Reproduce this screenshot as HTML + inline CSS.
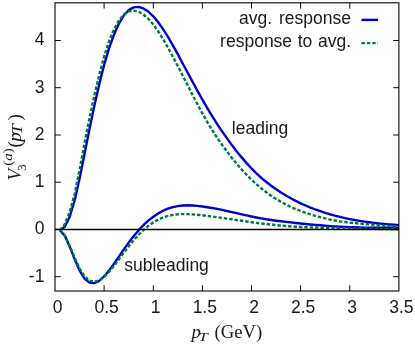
<!DOCTYPE html>
<html><head><meta charset="utf-8"><title>chart</title><style>html,body{margin:0;padding:0;background:#fff;overflow:hidden}svg{display:block;will-change:transform}</style></head><body>
<svg width="415" height="346" viewBox="0 0 415 346">
<rect width="415" height="346" fill="#fff"/>
<g fill="none" stroke-width="2.4" stroke-linejoin="round">
<path d="M59.9,230.2 L64.8,235.8 L69.7,246.6 L74.7,259.2 L79.6,270.4 L84.5,278.6 L89.4,282.6 L94.3,283.1 L99.2,280.8 L104.1,276.4 L109.0,270.6 L114.0,263.7 L118.9,256.6 L123.8,249.4 L128.7,242.6 L133.6,236.2 L138.5,230.4 L143.4,225.2 L148.3,220.6 L153.3,216.7 L158.2,213.4 L163.1,210.7 L168.0,208.6 L172.9,207.1 L177.8,206.1 L182.7,205.5 L187.7,205.3 L192.6,205.5 L197.5,205.9 L202.4,206.5 L207.3,207.2 L212.2,208.0 L217.1,208.9 L222.0,209.9 L227.0,211.0 L231.9,212.1 L236.8,213.2 L241.7,214.3 L246.6,215.4 L251.5,216.5 L256.4,217.5 L261.3,218.4 L266.3,219.3 L271.2,220.0 L276.1,220.7 L281.0,221.3 L285.9,221.9 L290.8,222.4 L295.7,223.0 L300.6,223.5 L305.6,224.0 L310.5,224.5 L315.4,224.9 L320.3,225.3 L325.2,225.7 L330.1,226.1 L335.0,226.4 L340.0,226.7 L344.9,226.9 L349.8,227.2 L354.7,227.3 L359.6,227.5 L364.5,227.6 L369.4,227.7 L374.3,227.8 L379.3,227.8 L384.2,227.8 L389.1,227.8 L394.0,227.8 L398.9,227.8" stroke="#0000cd"/>
<path d="M59.9,230.2 L64.8,235.5 L69.7,245.9 L74.7,257.9 L79.6,268.5 L84.5,276.3 L89.4,280.7 L94.3,281.8 L99.2,280.4 L104.1,276.9 L109.0,271.9 L114.0,265.8 L118.9,259.3 L123.8,252.7 L128.7,246.4 L133.6,240.4 L138.5,235.0 L143.4,230.1 L148.3,225.9 L153.3,222.5 L158.2,219.6 L163.1,217.5 L168.0,215.9 L172.9,214.9 L177.8,214.3 L182.7,214.1 L187.7,214.1 L192.6,214.4 L197.5,214.8 L202.4,215.3 L207.3,215.9 L212.2,216.5 L217.1,217.2 L222.0,217.9 L227.0,218.6 L231.9,219.3 L236.8,220.1 L241.7,220.8 L246.6,221.5 L251.5,222.2 L256.4,222.9 L261.3,223.5 L266.3,224.0 L271.2,224.6 L276.1,225.1 L281.0,225.6 L285.9,226.0 L290.8,226.4 L295.7,226.7 L300.6,227.0 L305.6,227.2 L310.5,227.4 L315.4,227.5 L320.3,227.7 L325.2,227.8 L330.1,227.9 L335.0,228.0 L340.0,228.1 L344.9,228.2 L349.8,228.3 L354.7,228.4 L359.6,228.5 L364.5,228.6 L369.4,228.8 L374.3,228.9 L379.3,229.0 L384.2,229.1 L389.1,229.2 L394.0,229.3 L398.9,229.4" stroke="#007a3d" stroke-dasharray="3.5 1.9"/>
<path d="M59.9,230.3 L64.8,226.8 L69.7,216.7 L74.7,200.2 L79.6,178.5 L84.5,154.0 L89.4,129.5 L94.3,106.1 L99.2,84.4 L104.1,65.0 L109.0,48.4 L114.0,34.6 L118.9,23.6 L123.8,15.5 L128.7,10.1 L133.6,7.4 L138.5,6.9 L143.4,8.4 L148.3,11.6 L153.3,16.3 L158.2,22.2 L163.1,29.1 L168.0,36.8 L172.9,45.3 L177.8,54.2 L182.7,63.5 L187.7,72.7 L192.6,81.9 L197.5,90.9 L202.4,99.7 L207.3,108.1 L212.2,116.2 L217.1,123.9 L222.0,131.3 L227.0,138.4 L231.9,145.1 L236.8,151.4 L241.7,157.4 L246.6,163.1 L251.5,168.4 L256.4,173.3 L261.3,177.8 L266.3,182.0 L271.2,185.8 L276.1,189.3 L281.0,192.5 L285.9,195.5 L290.8,198.3 L295.7,200.9 L300.6,203.3 L305.6,205.5 L310.5,207.6 L315.4,209.5 L320.3,211.2 L325.2,212.8 L330.1,214.3 L335.0,215.7 L340.0,216.9 L344.9,218.1 L349.8,219.1 L354.7,220.0 L359.6,220.9 L364.5,221.6 L369.4,222.3 L374.3,222.9 L379.3,223.5 L384.2,223.9 L389.1,224.4 L394.0,224.8 L398.9,225.1" stroke="#0000cd"/>
<path d="M59.9,230.3 L64.8,224.3 L69.7,212.1 L74.7,193.7 L79.6,169.7 L84.5,143.5 L89.4,118.7 L94.3,95.8 L99.2,74.9 L104.1,56.6 L109.0,41.3 L114.0,29.3 L118.9,20.5 L123.8,14.6 L128.7,11.4 L133.6,10.6 L138.5,11.7 L143.4,14.5 L148.3,18.8 L153.3,24.5 L158.2,31.4 L163.1,39.2 L168.0,47.7 L172.9,56.7 L177.8,66.1 L182.7,75.7 L187.7,85.4 L192.6,95.1 L197.5,104.4 L202.4,113.4 L207.3,122.0 L212.2,130.1 L217.1,137.7 L222.0,144.8 L227.0,151.5 L231.9,157.9 L236.8,163.9 L241.7,169.5 L246.6,174.8 L251.5,179.7 L256.4,184.2 L261.3,188.4 L266.3,192.3 L271.2,195.8 L276.1,199.0 L281.0,201.9 L285.9,204.5 L290.8,206.9 L295.7,209.1 L300.6,211.0 L305.6,212.8 L310.5,214.4 L315.4,215.9 L320.3,217.2 L325.2,218.4 L330.1,219.6 L335.0,220.5 L340.0,221.4 L344.9,222.0 L349.8,222.6 L354.7,223.1 L359.6,223.6 L364.5,224.0 L369.4,224.4 L374.3,224.8 L379.3,225.2 L384.2,225.6 L389.1,226.0 L394.0,226.3 L398.9,226.6" stroke="#007a3d" stroke-dasharray="3.5 1.9"/>
<path d="M361.4,19.9 H378" stroke="#0000cd"/>
<path d="M361.4,43.1 H378" stroke="#007a3d" stroke-dasharray="3.5 1.9"/>
</g>
<path d="M55.0,229.45 H398.9" stroke="#000" stroke-width="1.35" fill="none"/>
<path d="M104.1,291.0 v-5.8 M104.1,2.8 v5.8 M153.3,291.0 v-5.8 M153.3,2.8 v5.8 M202.4,291.0 v-5.8 M202.4,2.8 v5.8 M251.5,291.0 v-5.8 M251.5,2.8 v5.8 M300.6,291.0 v-5.8 M300.6,2.8 v5.8 M349.8,291.0 v-5.8 M349.8,2.8 v5.8 M55.0,276.7 h5.8 M398.9,276.7 h-5.8 M55.0,229.4 h5.8 M398.9,229.4 h-5.8 M55.0,182.2 h5.8 M398.9,182.2 h-5.8 M55.0,135.0 h5.8 M398.9,135.0 h-5.8 M55.0,87.7 h5.8 M398.9,87.7 h-5.8 M55.0,40.5 h5.8 M398.9,40.5 h-5.8" stroke="#000" stroke-width="0.95" fill="none"/>
<rect x="55.0" y="2.8" width="343.9" height="288.2" fill="none" stroke="#000" stroke-width="1.08"/>
<g font-family="'Liberation Sans', sans-serif" font-size="17.5" fill="#1a1a1a">
<text x="57.5" y="313.3" text-anchor="middle">0</text>
<text x="106.6" y="313.3" text-anchor="middle">0.5</text>
<text x="155.7" y="313.3" text-anchor="middle">1</text>
<text x="204.8" y="313.3" text-anchor="middle">1.5</text>
<text x="254.0" y="313.3" text-anchor="middle">2</text>
<text x="303.1" y="313.3" text-anchor="middle">2.5</text>
<text x="352.2" y="313.3" text-anchor="middle">3</text>
<text x="401.4" y="313.3" text-anchor="middle">3.5</text>
<text x="44.4" y="281.5" text-anchor="end">-1</text>
<text x="44.4" y="234.2" text-anchor="end">0</text>
<text x="44.4" y="187.0" text-anchor="end">1</text>
<text x="44.4" y="139.8" text-anchor="end">2</text>
<text x="44.4" y="92.5" text-anchor="end">3</text>
<text x="44.4" y="45.3" text-anchor="end">4</text>
<text x="351" y="23.6" text-anchor="end" word-spacing="2">avg. response</text>
<text x="351" y="47" text-anchor="end" word-spacing="0.75">response to avg.</text>
<text x="231.8" y="134">leading</text>
<text x="124.2" y="271">subleading</text>
</g>
<g font-family="'Liberation Serif', serif" fill="#1a1a1a">
<text x="191.6" y="338.3" font-size="18.7" font-style="italic">p</text>
<text x="198.6" y="340.6" font-size="13.5" font-style="italic" textLength="9.3" lengthAdjust="spacingAndGlyphs">T</text>
<text x="214.5" y="338.3" font-size="18.7">(GeV)</text>
<g transform="translate(21,180) rotate(-90)">
<text x="-0.5" y="0" font-size="19" font-style="italic">V</text>
<text x="9.3" y="4.7" font-size="13">3</text>
<text x="14.3" y="-8.8" font-size="13.5" textLength="17.5" lengthAdjust="spacingAndGlyphs">(<tspan font-style="italic">a</tspan>)</text>
<text x="32.4" y="0" font-size="19">(</text>
<text x="38.3" y="0" font-size="19" font-style="italic">p</text>
<text x="45.4" y="1.3" font-size="14.5" font-style="italic" textLength="10.3" lengthAdjust="spacingAndGlyphs">T</text>
<text x="59.5" y="0" font-size="19">)</text>
</g>
</g>
</svg>
</body></html>
